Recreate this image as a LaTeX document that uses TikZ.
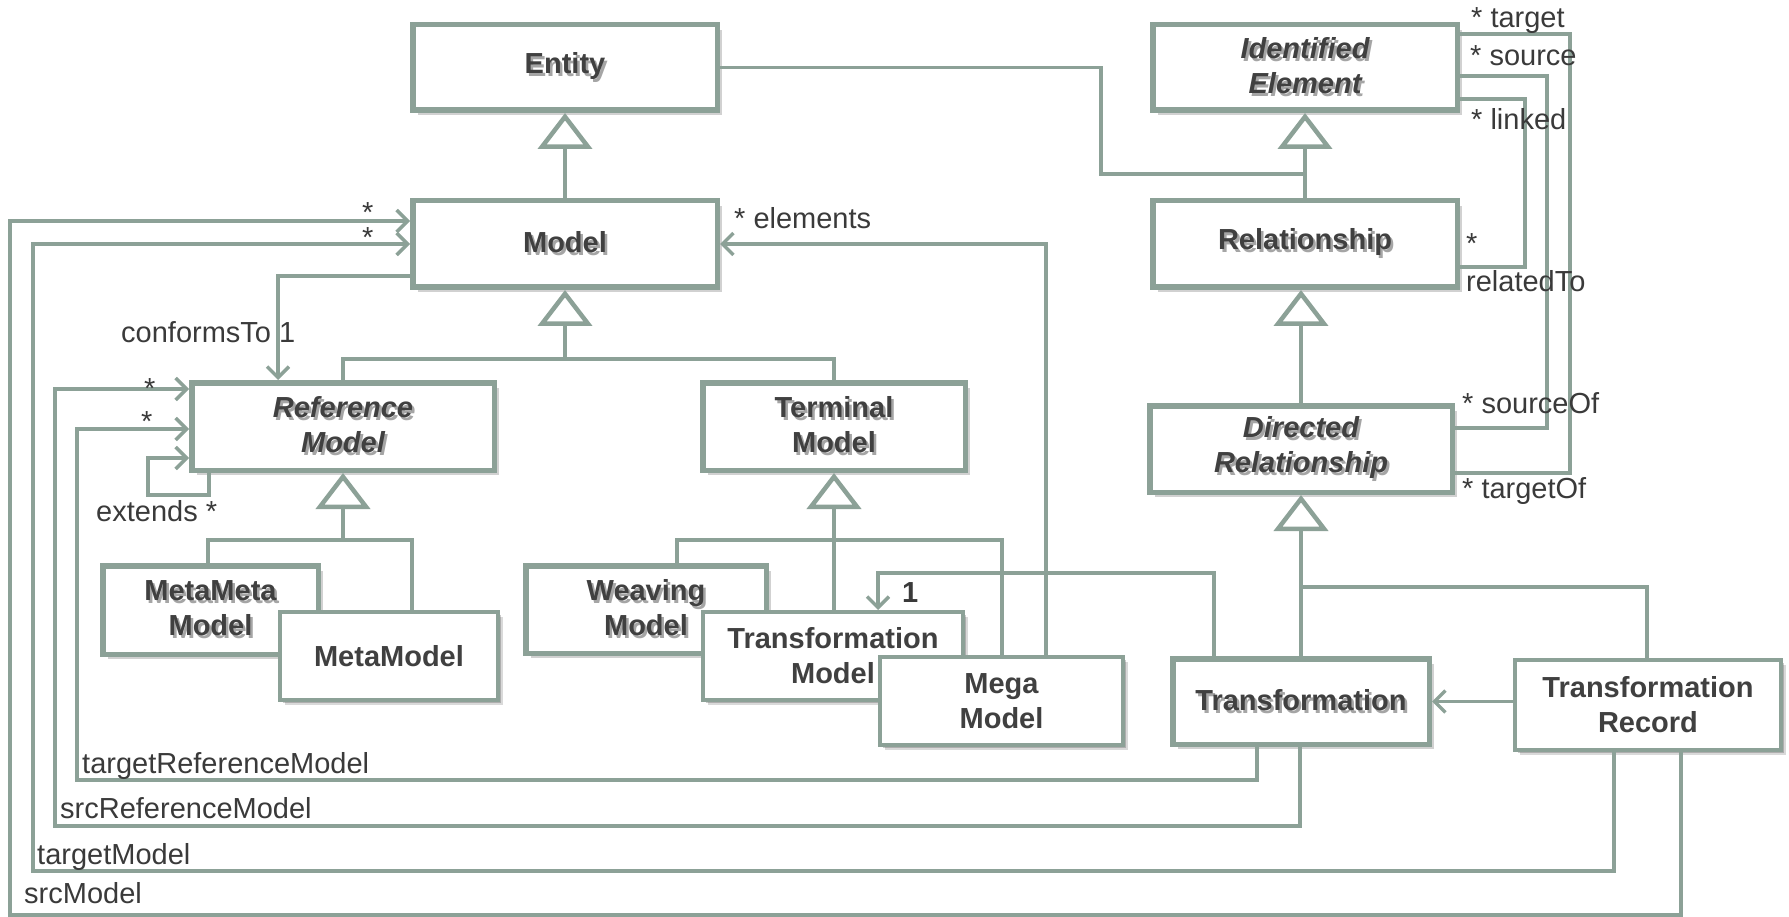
\documentclass[tikz,border=0pt]{standalone}
\usepackage{fontspec}
\setmainfont{Liberation Sans}
\usetikzlibrary{arrows.meta,shadows}
\definecolor{lc}{RGB}{140,161,151}
\definecolor{textc}{RGB}{64,64,64}
\definecolor{labelc}{RGB}{58,58,58}
\definecolor{tsh}{RGB}{165,165,165}
\newcommand{\sh}[1]{\leavevmode\rlap{\kern2.5pt\raisebox{-3pt}{\textcolor{tsh}{#1}}}#1}
\tikzset{
  boxbase/.style={rectangle, draw=lc, fill=white, align=center, text=textc, inner sep=0pt,
    font=\bfseries\fontsize{29}{35}\selectfont},
  cls/.style={boxbase, line width=5.5pt,
    drop shadow={shadow xshift=5pt, shadow yshift=-5pt, opacity=0.18, fill=black},
    drop shadow={shadow xshift=3pt, shadow yshift=-3pt, opacity=0.25, fill=black}},
  clsthin/.style={boxbase, line width=4pt,
    drop shadow={shadow xshift=5pt, shadow yshift=-5pt, opacity=0.15, fill=black},
    drop shadow={shadow xshift=3pt, shadow yshift=-3pt, opacity=0.2, fill=black}},
  abs/.style={font=\bfseries\itshape\fontsize{29}{35}\selectfont},
  conn/.style={draw=lc, line width=3.5pt},
  assoc/.style={conn, -{Straight Barb[length=11pt,width=22pt]}},
  gen/.style={conn, -{Triangle[open, length=36pt, width=54pt, line width=4.5pt]}},
  lbl/.style={font=\fontsize{29}{35}\selectfont, text=labelc, inner sep=0pt, anchor=base west},
}
\begin{document}
\begin{tikzpicture}[x=1pt,y=-1pt]
\path[use as bounding box] (0,0) rectangle (1789,917);

% classes
\node[cls, minimum width=304.5, minimum height=85.5] (entity) at (565,67.5) {\sh{Entity}};
\node[cls, minimum width=304.5, minimum height=86.5] (model) at (565,244) {\sh{Model}};
\node[cls, abs, minimum width=304.5, minimum height=85.5] (ie) at (1305,67.5) {\sh{Identified}\\\sh{Element}};
\node[cls, minimum width=304.5, minimum height=86.5] (rel) at (1305,244) {\sh{Relationship}};
\node[cls, abs, minimum width=302.5, minimum height=86.5] (dr) at (1301,449) {\sh{Directed}\\\sh{Relationship}};
\node[cls, abs, minimum width=302.5, minimum height=87.5] (refm) at (343,426.5) {\sh{Reference}\\\sh{Model}};
\node[cls, minimum width=262.5, minimum height=87.5] (termm) at (834,426.5) {\sh{Terminal}\\\sh{Model}};
\node[cls, minimum width=215.5, minimum height=88.5] (mm) at (210.5,610) {\sh{MetaMeta}\\\sh{Model}};
\node[clsthin, minimum width=218, minimum height=88] (metam) at (389,656) {MetaModel};
\node[cls, minimum width=240.5, minimum height=87.5] (wm) at (646,609.5) {\sh{Weaving}\\\sh{Model}};
\node[clsthin, minimum width=260, minimum height=88] (tmod) at (833,656) {Transformation\\Model};
\node[clsthin, minimum width=243, minimum height=88] (mega) at (1001.5,701) {Mega\\Model};
\node[cls, minimum width=256.5, minimum height=85.5] (trans) at (1301,701.5) {\sh{Transformation}};
\node[clsthin, minimum width=266, minimum height=90] (tr) at (1648,705) {Transformation\\Record};

% generalizations
\coordinate (jie) at (1305,174);
\draw[conn] (entity.east) -| (1101,174) -- (jie);
\draw[gen] (rel.north) -- (ie.south);
\draw[gen] (dr.north) -- (dr.north |- rel.south);

\coordinate (jm) at (565,359);
\draw[conn] (refm.north) |- (jm) -| (termm.north);
\draw[gen] (model.north) -- (entity.south);
\draw[gen] (jm) -- (model.south);

\coordinate (jr) at (343,540);
\draw[conn] (mm.north -| 208,0) |- (jr) -| (metam.north -| 412,0);
\draw[gen] (jr) -- (refm.south);

\coordinate (jt) at (834,540);
\draw[conn] (wm.north -| 677,0) |- (jt) -| (mega.north -| 1002,0);
\draw[conn] (tmod.north -| jt) -- (jt);
\draw[gen] (jt) -- (termm.south);

\coordinate (jd) at (1301,587);
\draw[conn] (trans.north) -- (jd) -| (tr.north -| 1647,0);
\draw[gen] (jd) -- (dr.south);

% associations
\draw[assoc] (model.west |- 0,276) -| (refm.north -| 278,0);
\draw[assoc] (tr.south -| 1681,0) |- (10,915) |- (model.west |- 0,221);
\draw[assoc] (tr.south -| 1614,0) |- (33,871) |- (model.west);
\draw[assoc] (trans.south -| 1300,0) |- (55,826) |- (refm.west |- 0,389);
\draw[assoc] (trans.south -| 1257,0) |- (77,780) |- (refm.west |- 0,429);
\draw[assoc] (refm.south -| 209,0) |- (148,495) |- (refm.west |- 0,458);
\draw[assoc] (mega.north -| 1046,0) |- (model.east);
\draw[assoc] (trans.north -| 1214,0) |- (878,573) -- (tmod.north -| 878,0);
\draw[assoc] (trans.east -| tr.west) -- (trans.east);

\draw[conn] (ie.east |- 0,34) -| (1570,473) -- (dr.east |- 0,473);
\draw[conn] (ie.east |- 0,76) -| (1547,428) -- (dr.east |- 0,428);
\draw[conn] (ie.east |- 0,99) -| (1525,267) -- (rel.east |- 0,267);

% labels
\node[lbl] (ltarget) at (1471,28) {* target};
\node[lbl] (lsource) at (1470,66) {* source};
\node[lbl] (llinked) at (1471,130) {* linked};
\node[lbl] (lrelstar) at (1466,254) {*};
\node[lbl] (lrelated) at (1466,292) {relatedTo};
\node[lbl] (lsourceof) at (1462,413) {* sourceOf};
\node[lbl] (ltargetof) at (1462,498) {* targetOf};

\node[lbl, anchor=north west, align=left, font=\fontsize{29}{25}\selectfont] (lms) at (362,202) {*\\*};
\node[lbl] (lelem) at (734,229) {* elements};
\node[lbl] (lconf) at (121,343) {conformsTo 1};
\node[lbl] (lrs1) at (144,398) {*};
\node[lbl] (lrs2) at (141,431) {*};
\node[lbl] (lext) at (96,521) {extends *};
\node[lbl, font=\bfseries\fontsize{29}{35}\selectfont] (lone) at (902,602) {1};
\node[lbl] (ltrm) at (82,773) {targetReferenceModel};
\node[lbl] (lsrm) at (60,818) {srcReferenceModel};
\node[lbl] (ltm) at (37,864) {targetModel};
\node[lbl] (lsm) at (24,903) {srcModel};
\end{tikzpicture}
\end{document}
